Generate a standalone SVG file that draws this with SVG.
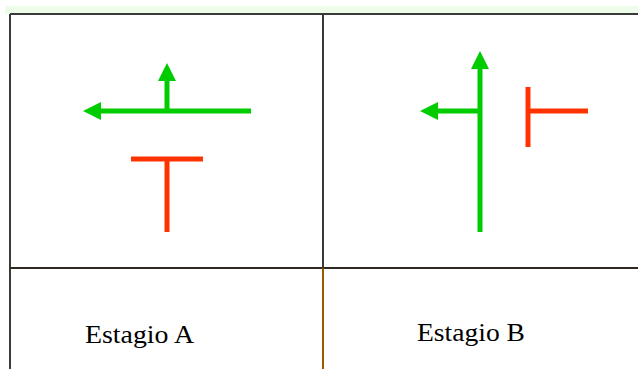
<svg xmlns="http://www.w3.org/2000/svg" width="638" height="369" viewBox="0 0 638 369">
<defs>
<style>
.grid{stroke:#3a3a3a;stroke-width:2;fill:none}
.g{stroke:#00cc00;stroke-width:5;fill:none}
.r{stroke:#ff3300;stroke-width:5;fill:none}
.ah{fill:#00cc00}
.lbl{font-family:"Liberation Serif","Times New Roman",serif;font-size:25px;fill:#000}
</style>
</defs>
<rect width="638" height="369" fill="#fff"/>
<rect x="5" y="6" width="633" height="8" fill="#eefcea"/>
<g id="grid">
<line class="grid" x1="10" y1="14" x2="638" y2="14"/>
<line class="grid" x1="10" y1="14" x2="10" y2="369"/>
<line class="grid" x1="323" y1="14" x2="323" y2="268"/>
<line x1="10" y1="268" x2="638" y2="268" stroke="#2e2a20" stroke-width="2"/>
<line x1="323" y1="268" x2="323" y2="369" stroke="#9a5a00" stroke-width="2"/>
</g>
<g id="stageA">
<line class="g" x1="100" y1="111" x2="251" y2="111"/>
<polygon class="ah" points="83,111 101,102 101,120"/>
<line class="g" x1="167" y1="111" x2="167" y2="80"/>
<polygon class="ah" points="167,63 158,81 176,81"/>
<line class="r" x1="131" y1="159" x2="203" y2="159"/>
<line class="r" x1="167" y1="159" x2="167" y2="232"/>
</g>
<g id="stageB">
<line class="g" x1="480" y1="232" x2="480" y2="68"/>
<polygon class="ah" points="480,51 471,69 489,69"/>
<line class="g" x1="480" y1="111" x2="437" y2="111"/>
<polygon class="ah" points="420,111 438,102 438,120"/>
<line class="r" x1="528" y1="87" x2="528" y2="147"/>
<line class="r" x1="528" y1="111" x2="588" y2="111"/>
</g>
<g id="labelA"><text class="lbl" x="85" y="343" textLength="109" lengthAdjust="spacingAndGlyphs">Estagio A</text></g>
<g id="labelB"><text class="lbl" x="417" y="341" textLength="108" lengthAdjust="spacingAndGlyphs">Estagio B</text></g>
</svg>
